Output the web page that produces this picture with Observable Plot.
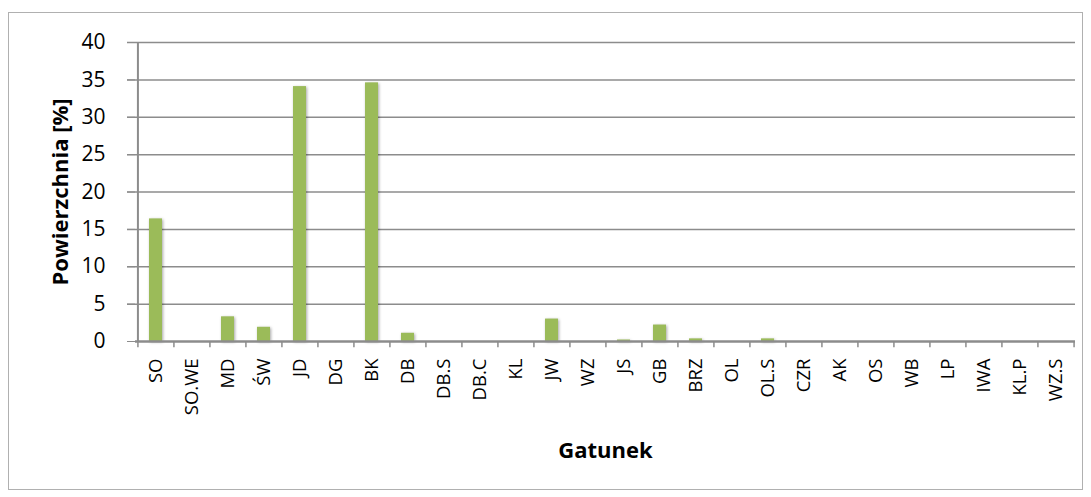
<!DOCTYPE html>
<html>
<head>
<meta charset="utf-8">
<script src="https://cdn.jsdelivr.net/npm/d3@7"></script>
<script src="https://cdn.jsdelivr.net/npm/@observablehq/plot@0.6"></script>
<style>
  html, body { margin: 0; padding: 0; background: #fff; }
  #wrap { position: relative; width: 1091px; height: 497px; }
  #frame { position: absolute; left: 8px; top: 12px; width: 1075px; height: 478px; border: 1px solid #b0b0b0; box-sizing: border-box; pointer-events: none; }
  #chart { position: absolute; left: 0; top: 0; }
  .bars rect { filter: drop-shadow(1.5px 1.5px 1.5px rgba(0,0,0,0.35)); }
</style>
</head>
<body>
<div id="wrap"><div id="frame"></div><div id="chart"></div></div>
<script>
const categories = ["SO","SO.WE","MD","ŚW","JD","DG","BK","DB","DB.S","DB.C","KL","JW","WZ","JS","GB","BRZ","OL","OL.S","CZR","AK","OS","WB","LP","IWA","KL.P","WZ.S"];
const values = [16.4, 0, 3.3, 1.9, 34.1, 0, 34.6, 1.1, 0, 0, 0, 3.0, 0, 0.2, 2.2, 0.35, 0, 0.35, 0, 0, 0, 0, 0, 0, 0, 0];
const yTicks = [0, 5, 10, 15, 20, 25, 30, 35, 40];
const yTitle = "Powierzchnia [%]";
const xTitle = "Gatunek";

const data = categories.map((c, i) => ({cat: c, val: values[i]}));

const W = 1091, H = 497;
const mL = 135, mR = 16, mT = 42, mB = 156;
const bw = (W - mL - mR) / categories.length;
const font = "'Open Sans', sans-serif";

const chart = Plot.plot({
  width: W,
  height: H,
  marginLeft: mL,
  marginRight: mR,
  marginTop: mT,
  marginBottom: mB,
  style: {fontFamily: font, background: "transparent", color: "#000"},
  x: {domain: categories, paddingInner: 0.64, paddingOuter: 0.32, label: null},
  y: {domain: [0, 40], label: null},
  marks: [
    Plot.ruleY(yTicks.filter(d => d > 0), {stroke: "#8c8c8c", strokeWidth: 1.5, insetLeft: -8}),
    Plot.axisY({ticks: yTicks, tickSize: 8, tickPadding: 22, fontSize: 21, stroke: "#8c8c8c", label: null}),
    Plot.ruleX(categories.slice(0, 1), {x: d => d, y1: 0, y2: 40, dx: -bw / 2, stroke: "#8c8c8c", strokeWidth: 2}),
    Plot.barY(data, {x: "cat", y: "val", fill: "#9bbb59", className: "bars"}),
    Plot.ruleY([0], {stroke: "#8c8c8c", strokeWidth: 2.5}),
    Plot.ruleX(categories, {x: d => d, y1: 0, y2: -0.85, dx: -bw / 2, stroke: "#8c8c8c", strokeWidth: 1.5}),
    Plot.ruleX(categories.slice(-1), {x: d => d, y1: 0, y2: -0.85, dx: bw / 2, stroke: "#8c8c8c", strokeWidth: 1.5}),
    Plot.axisX({tickSize: 0, tickPadding: 17, tickRotate: -90, fontSize: 18.5, label: null}),
    Plot.text([yTitle], {frameAnchor: "left", dx: -75, rotate: -90, textAnchor: "middle", fontSize: 22, fontWeight: "bold", fill: "#000"}),
    Plot.text([xTitle], {frameAnchor: "bottom", dy: 116, textAnchor: "middle", fontSize: 22, fontWeight: "bold", fill: "#000"})
  ]
});
document.getElementById("chart").appendChild(chart);
</script>
</body>
</html>
